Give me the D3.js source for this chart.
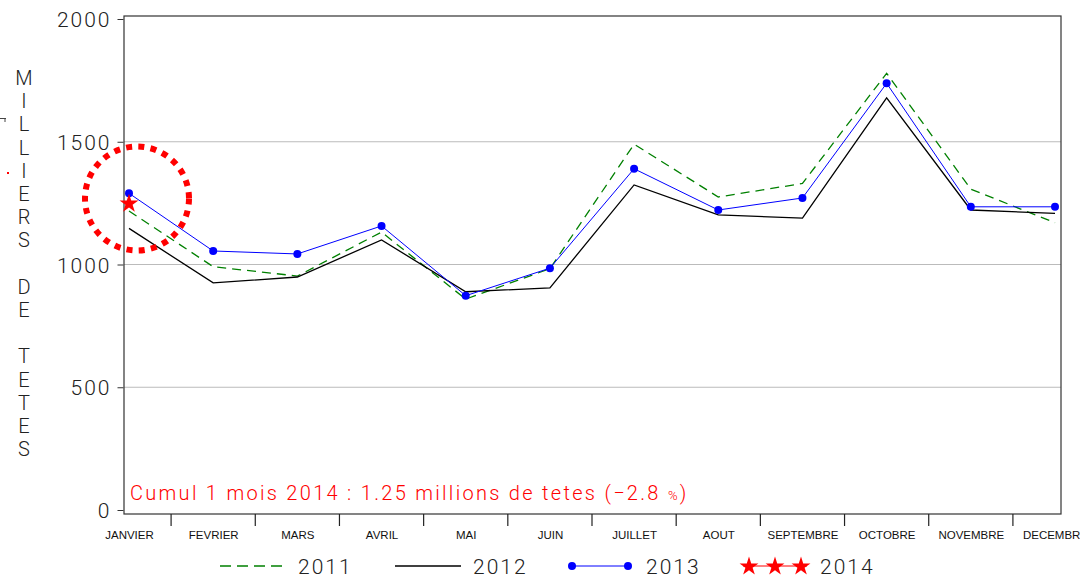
<!DOCTYPE html>
<html><head><meta charset="utf-8">
<script src="https://cdn.jsdelivr.net/npm/d3@7"></script>
<style>
body{margin:0;background:#fff;}
svg{display:block;}
.thin{font-family:Roboto,"DejaVu Sans",sans-serif;font-weight:300;fill:#222;letter-spacing:2px;}
</style></head>
<body>
<svg id="c" width="1080" height="577"></svg>
<script>
const months = ["JANVIER","FEVRIER","MARS","AVRIL","MAI","JUIN","JUILLET","AOUT","SEPTEMBRE","OCTOBRE","NOVEMBRE","DECEMBRE"];
const s2011 = [1218, 991, 953, 1132, 859, 983, 1490, 1275, 1330, 1779, 1307, 1170];
const s2012 = [1147, 925, 949, 1100, 889, 905, 1324, 1202, 1189, 1679, 1222, 1208];
const s2013 = [1290, 1055, 1043, 1157, 873, 985, 1390, 1222, 1271, 1738, 1235, 1235];
const s2014 = [1252];
const yTicks = [0, 500, 1000, 1500, 2000];
const yTitle = "MILLIERS DE TETES";
const note = "Cumul 1 mois 2014 : 1.25 millions de tetes (\u22122.8 ";
const legendLabels = ["2011", "2012", "2013", "2014"];

const svg = d3.select("#c");
const frame = {l:124, r:1061, t:16, b:514};
const x = d3.scalePoint().domain(months).range([129, 1055]);
const y = d3.scaleLinear().domain([0, 2000]).range([510, 19]);

// grid
svg.append("g").selectAll("line").data([500,1000,1500]).join("line")
  .attr("x1", frame.l).attr("x2", frame.r)
  .attr("y1", d=>y(d)).attr("y2", d=>y(d))
  .attr("stroke", "#bbb").attr("stroke-width", 1.2);

// frame
svg.append("rect").attr("x", frame.l).attr("y", frame.t)
  .attr("width", frame.r-frame.l).attr("height", frame.b-frame.t)
  .attr("fill", "none").attr("stroke", "#333").attr("stroke-width", 1.2);

// y axis
const ya = svg.append("g").attr("transform", `translate(${frame.l-0.5},0)`)
  .call(d3.axisLeft(y).tickValues(yTicks).tickSize(6).tickPadding(6).tickFormat(d3.format("d")));
ya.select(".domain").remove();
ya.selectAll("line").attr("stroke", "#333");
ya.selectAll("text").attr("class","thin").style("font-size","21px").attr("dy","0.36em").attr("fill","#222");

// x axis labels
const xa = svg.append("g").attr("transform", `translate(0,${frame.b})`)
  .call(d3.axisBottom(x).tickSize(0).tickPadding(17));
xa.select(".domain").remove();
xa.selectAll("text").style("font-family","'Liberation Sans',Arial,sans-serif").style("font-size","11.5px").attr("fill","#111");
// separators
const step = x.step();
svg.append("g").selectAll("line").data(months.slice(0, -1)).join("line")
  .attr("x1", d=>x(d)+step/2).attr("x2", d=>x(d)+step/2)
  .attr("y1", frame.b).attr("y2", frame.b+12)
  .attr("stroke", "#222").attr("stroke-width", 1.2);

// y title stacked letters
const yt = svg.append("g");
yTitle.split("").forEach((ch, i) => {
  if (ch === " ") return;
  yt.append("text").attr("class","thin").style("letter-spacing","0px").attr("x", 24).attr("y", 85 + i*23.2)
    .attr("text-anchor","middle").style("font-size","20px").text(ch);
});
// small stray marks at left
svg.append("path").attr("d","M0,118.5H6M5,118.5V122").attr("stroke","#444").attr("fill","none");
svg.append("rect").attr("x",7).attr("y",172).attr("width",2).attr("height",2).attr("fill","red");

const line = d3.line().x((d,i)=>x(months[i])).y(d=>y(d));

svg.append("path").datum(s2011).attr("d", line).attr("fill","none")
  .attr("stroke","#008000").attr("stroke-width",1.3).attr("stroke-dasharray","9,6");
svg.append("path").datum(s2012).attr("d", line).attr("fill","none")
  .attr("stroke","#000").attr("stroke-width",1.3);
svg.append("path").datum(s2013).attr("d", line).attr("fill","none")
  .attr("stroke","#0000ff").attr("stroke-width",1);
svg.append("g").selectAll("circle").data(s2013).join("circle")
  .attr("cx",(d,i)=>x(months[i])).attr("cy",d=>y(d)).attr("r",4).attr("fill","#0000ff");

const star = d3.symbol().type(d3.symbolStar).size(110);
svg.append("g").selectAll("path").data(s2014).join("path")
  .attr("d", star).attr("transform",(d,i)=>`translate(${x(months[i])},${y(d)+1})`).attr("fill","red");

// dotted circle
svg.append("circle").attr("cx",137).attr("cy",198.5).attr("r",52)
  .attr("fill","none").attr("stroke","red").attr("stroke-width",6).attr("stroke-dasharray","6,6.3");

// note
const nt = svg.append("text").attr("class","thin").attr("x",130).attr("y",500)
  .style("font-size","20px").style("letter-spacing","2.3px").style("fill","red").text(note);
nt.append("tspan").style("font-size","13px").text("%");
nt.append("tspan").text(")");

// legend
const lg = svg.append("g");
const ly = 566;
lg.append("line").attr("x1",220).attr("x2",283).attr("y1",ly).attr("y2",ly)
  .attr("stroke","#008000").attr("stroke-width",1.3).attr("stroke-dasharray","11,6");
lg.append("line").attr("x1",395).attr("x2",461).attr("y1",ly).attr("y2",ly)
  .attr("stroke","#000").attr("stroke-width",1.3);
lg.append("line").attr("x1",570).attr("x2",631).attr("y1",ly).attr("y2",ly)
  .attr("stroke","#0000ff").attr("stroke-width",1);
lg.selectAll("circle.l").data([572,628]).join("circle").attr("class","l")
  .attr("cx",d=>d).attr("cy",ly).attr("r",4).attr("fill","#0000ff");
lg.append("line").attr("x1",743).attr("x2",807).attr("y1",ly).attr("y2",ly)
  .attr("stroke","red").attr("stroke-width",1.2);
lg.selectAll("path.s").data([749,775,801]).join("path").attr("class","s")
  .attr("d", star).attr("transform",d=>`translate(${d},${ly+0.5})`).attr("fill","red");
const lx = [298, 473, 646, 820];
lg.selectAll("text").data(legendLabels).join("text").attr("class","thin")
  .attr("x",(d,i)=>lx[i]).attr("y",ly+8).style("font-size","21px").text(d=>d);
</script>
</body></html>
